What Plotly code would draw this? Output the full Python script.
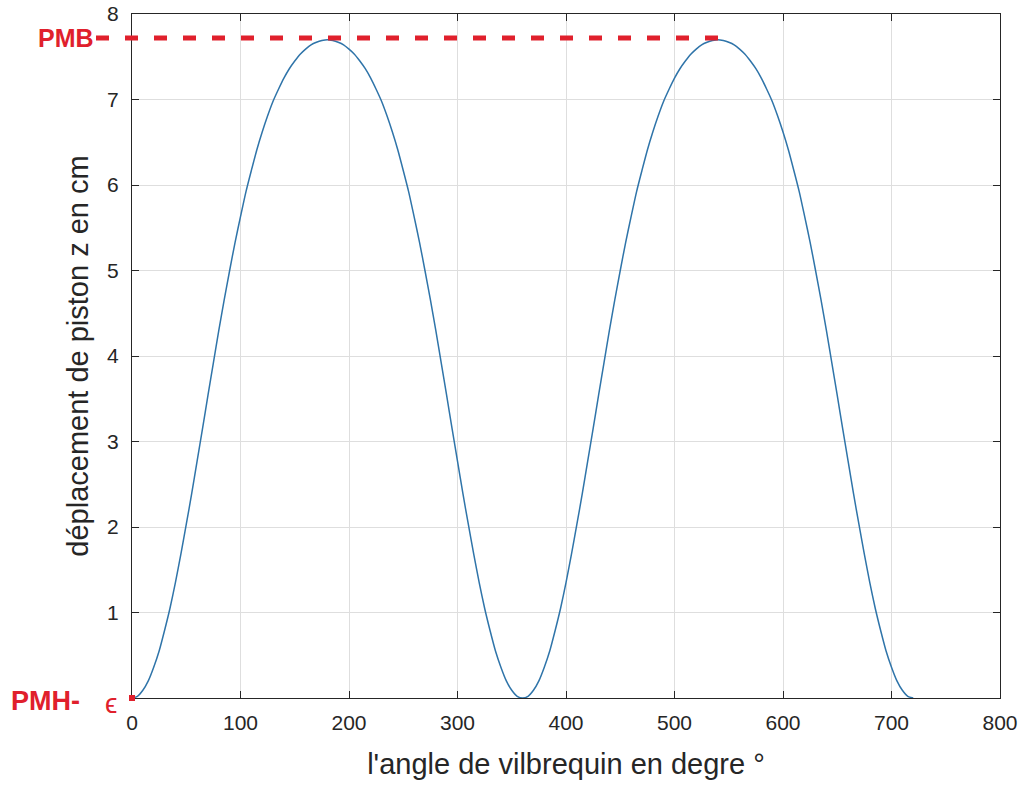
import plotly.graph_objects as go

# crank angle (degrees) and piston displacement z (cm)
angle = list(range(0, 721, 5))
z_half = [0.00, 0.02, 0.09, 0.20, 0.36, 0.55, 0.79, 1.05, 1.35, 1.68,
          2.03, 2.39, 2.77, 3.15, 3.54, 3.92, 4.30, 4.66, 5.00, 5.33,
          5.63, 5.92, 6.17, 6.41, 6.62, 6.81, 6.98, 7.12, 7.25, 7.36,
          7.45, 7.53, 7.59, 7.64, 7.67, 7.69, 7.70]
displacement = (z_half + z_half[-2::-1] + z_half[1:] + z_half[-2::-1])

x_ticks = [0, 100, 200, 300, 400, 500, 600, 700, 800]
y_ticks = [0, 1, 2, 3, 4, 5, 6, 7, 8]
y_ticktext = ["", "1", "2", "3", "4", "5", "6", "7", "8"]

pmb_value = 7.72
pmb_end_angle = 544

W, H = 1023, 789
L, R, T, B = 132, 23, 14, 91
pw, ph = W - L - R, H - T - B

RED = "#e0202c"
AX = "#262626"
GRID = "#dedede"
FONT = "Liberation Sans, Arial, sans-serif"

fig = go.Figure()
fig.add_trace(go.Scatter(x=angle, y=displacement, mode="lines",
                         line=dict(color="#2f74a9", width=1.5, shape="spline", smoothing=0.6),
                         showlegend=False, hoverinfo="skip"))

def px2paper_x(px):
    return (px - L) / pw

def val2paper_y(v):
    return v / 8.0

# PMB dashed line
fig.add_shape(type="line", xref="paper", yref="paper",
              x0=px2paper_x(96), x1=pmb_end_angle / 800.0,
              y0=val2paper_y(pmb_value), y1=val2paper_y(pmb_value),
              line=dict(color=RED, width=5, dash="13px,16px"), layer="above")
fig.add_annotation(xref="paper", yref="paper", x=px2paper_x(96), y=val2paper_y(pmb_value),
                   text="<b>PMB</b>", showarrow=False, xanchor="right", yanchor="middle",
                   font=dict(family=FONT, size=25, color=RED))
fig.add_annotation(xref="paper", yref="paper", x=px2paper_x(9), y=val2paper_y(0) - 0.004,
                   text="<b>PMH-</b>", showarrow=False, xanchor="left", yanchor="middle",
                   font=dict(family=FONT, size=27, color=RED))
fig.add_annotation(xref="paper", yref="paper", x=px2paper_x(111), y=val2paper_y(0) - 0.008,
                   text="ϵ", showarrow=False, xanchor="center", yanchor="middle",
                   font=dict(family=FONT, size=28, color=RED))
fig.add_shape(type="rect", xref="paper", yref="paper",
              x0=px2paper_x(129), x1=px2paper_x(135), y0=-3 / ph, y1=3 / ph,
              fillcolor=RED, line=dict(width=0), layer="above")

axis_common = dict(showgrid=True, gridcolor=GRID, gridwidth=1, zeroline=False,
                   showline=True, linecolor=AX, linewidth=1.2, mirror="ticks",
                   ticks="inside", ticklen=7, tickcolor=AX,
                   tickfont=dict(family=FONT, size=21, color=AX))

fig.update_xaxes(range=[0, 800], tickvals=x_ticks, ticklabelstandoff=6,
                 title=dict(text="l'angle de vilbrequin en degre °", standoff=20,
                            font=dict(family=FONT, size=29, color=AX)),
                 **axis_common)
fig.update_yaxes(range=[0, 8], tickvals=y_ticks, ticktext=y_ticktext, ticklabelstandoff=8,
                 title=dict(text="déplacement de piston z en cm", standoff=9,
                            font=dict(family=FONT, size=29, color=AX)),
                 **axis_common)

fig.update_layout(width=W, height=H, margin=dict(l=L, r=R, t=T, b=B, autoexpand=False),
                  plot_bgcolor="white", paper_bgcolor="white")

fig.write_html("out.html")
